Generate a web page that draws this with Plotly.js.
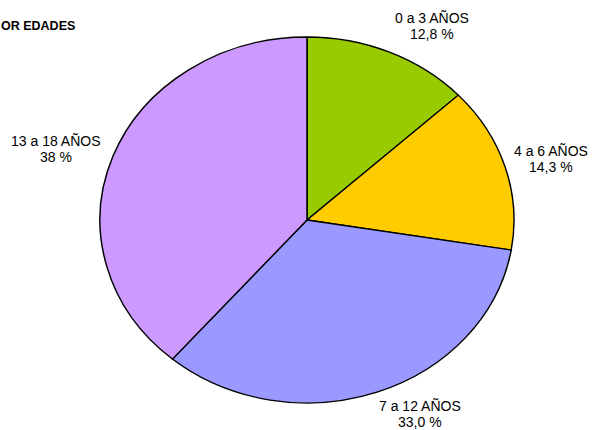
<!DOCTYPE html>
<html>
<head>
<meta charset="utf-8">
<script src="https://cdn.plot.ly/plotly-3.0.1.min.js"></script>
<style>html,body{margin:0;padding:0;background:#fff}#chart{width:594px;height:430px}</style>
</head>
<body>
<div id="chart"></div>
<script>
const categories = ["0 a 3 AÑOS", "4 a 6 AÑOS", "7 a 12 AÑOS", "13 a 18 AÑOS"];
const values = [12.8, 14.3, 33.0, 38];
const valueLabels = ["12,8 %", "14,3 %", "33,0 %", "38 %"];
const colors = ["#99CC00", "#FFCC00", "#9999FF", "#CC99FF"];
const titleText = "OR EDADES";

const W = 594, H = 430;
const cx = 307, cy = 220, ry = 183, rx = 207;
const labelPos = [[432, 18], [551, 151], [420, 406], [56, 141]];
const lineGap = 16;

const px = x => x / W, py = y => 1 - y / H;
const font = {family: "Liberation Sans, Arial, sans-serif", size: 14, color: "#000"};

const annotations = [];
categories.forEach((c, i) => {
  [c, valueLabels[i]].forEach((t, k) => annotations.push({
    x: px(labelPos[i][0]), y: py(labelPos[i][1] + k * lineGap), xref: "paper", yref: "paper",
    text: t, showarrow: false, xanchor: "center", yanchor: "middle", borderpad: 0, font: font
  }));
});
annotations.push({
  x: 0, y: py(26), xref: "paper", yref: "paper", text: "<b>" + titleText + "</b>",
  showarrow: false, xanchor: "left", yanchor: "middle", borderpad: 0,
  font: {family: "Liberation Sans, Arial, sans-serif", size: 12.5, color: "#000"}
});

const trace = {
  type: "pie", labels: categories, values: values, sort: false, direction: "clockwise",
  rotation: 0, textinfo: "none", hoverinfo: "none",
  marker: {colors: colors, line: {color: "#000", width: 1.3}},
  domain: {x: [px(cx - ry), px(cx + ry)], y: [py(cy + ry), py(cy - ry)]}
};

Plotly.newPlot("chart", [trace], {
  width: W, height: H, margin: {l: 0, r: 0, t: 0, b: 0}, showlegend: false,
  paper_bgcolor: "#fff", annotations: annotations
}, {staticPlot: true}).then(() => {
  const layer = document.querySelector("#chart .pielayer");
  if (layer) layer.setAttribute("transform", `translate(${cx},0) scale(${rx / ry},1) translate(${-cx},0)`);
});
</script>
</body>
</html>
